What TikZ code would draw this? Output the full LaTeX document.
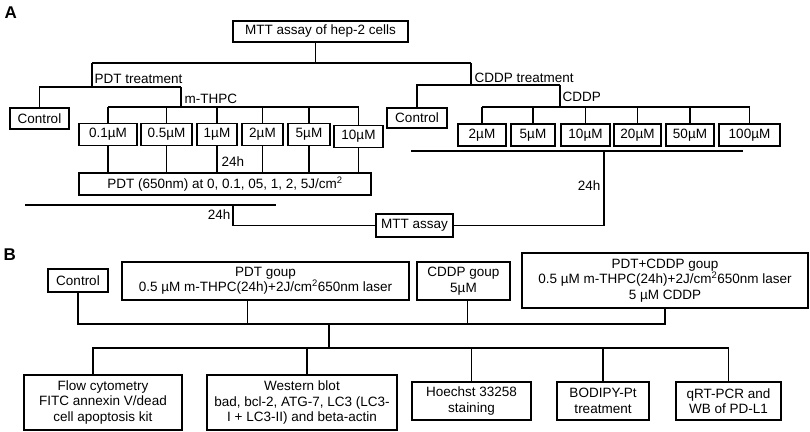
\documentclass[tikz,border=0pt]{standalone}
\usepackage{fontspec}
\setmainfont{Liberation Sans}

\begin{document}
\begin{tikzpicture}[x=1pt, y=-1pt, line width=1.4pt,
  every node/.style={font=\fontsize{13.5}{15.5}\selectfont},
  box/.style={draw, align=center, inner sep=1pt},
  lbl/.style={inner sep=0pt, anchor=base west},
  panel/.style={inner sep=0pt, anchor=base west, font=\fontsize{17}{17}\selectfont\bfseries}]
\useasboundingbox (0,0) rectangle (810,431);
\node[panel] (pA) at (4,18) {A};
\node[panel] (pB) at (3,260) {B};

% A: MTT assay
\node[box, minimum width=175pt, minimum height=21pt] (top) at (320.5,31.5) {MTT assay of hep-2 cells};
\node[box, minimum width=59pt, minimum height=21pt] (ctlA) at (39.5,118.5) {Control};
\node[box, minimum width=60pt, minimum height=20pt] (ctlB) at (417,118) {Control};
\foreach \x/\w/\y/\t [count=\i] in {108/58/134.5/0.1, 166.5/51/134.5/0.5, 217/40/134.5/1, 262.5/41/134.5/2, 309/42/134.5/5, 358.5/49/136.5/10}
  \node[box, minimum width=\w pt, minimum height=22pt] (m\i) at (\x,\y) {\t µM};
\foreach \x/\w/\t [count=\i] in {482/48/2, 533/44/5, 585.5/49/10, 637.5/47/20, 690/48/50, 749.5/61/100}
  \node[box, minimum width=\w pt, minimum height=22pt] (c\i) at (\x,135) {\t µM};
\node[box, minimum width=292pt, minimum height=22pt] (pdtbox) at (225,184) {PDT (650nm) at 0, 0.1, 05, 1, 2, 5J/cm\textsuperscript{2}};
\node[box, minimum width=77pt, minimum height=23pt] (mtt) at (414.5,225.5) {MTT assay};

\coordinate (pdt) at (92,63);
\coordinate (cddp) at (471,63);
\coordinate (pdtj) at (181,87);
\coordinate (cddpj) at (560,85);
\coordinate (mbus) at (0,107);
\draw ([xshift=-5pt]top.south) -- ([xshift=-5pt]top.south |- pdt);
\draw (pdt) -- (cddp);
\draw (pdt) -- (pdt |- pdtj);
\draw (ctlA) |- (pdtj);
\draw (pdtj) -- (pdtj |- mbus);
\draw (m1 |- mbus) -- (m6 |- mbus);
\draw (cddp) -- (cddp |- cddpj);
\draw (ctlB) |- (cddpj);
\draw (cddpj) -- (cddpj |- mbus);
\draw (c1 |- mbus) -- (c6 |- mbus);
\foreach \i in {1,...,6} {
  \draw (m\i) -- (m\i |- mbus);
  \draw (m\i) -- (m\i |- pdtbox.north);
  \draw (c\i) -- (c\i |- mbus);
}
\node[lbl] at (94,83) {PDT treatment};
\node[lbl] at (184,103) {m-THPC};
\node[lbl] at (474,82) {CDDP treatment};
\node[lbl] at (562,101) {CDDP};
\node[lbl] at (221,166) {24h};

% A: after treatment
\coordinate (ja) at (25,205);
\coordinate (jb) at (276,205);
\coordinate (jc) at (233,205);
\coordinate (jd) at (411,151);
\coordinate (je) at (743,151);
\coordinate (jf) at (604,151);
\draw (ja) -- (jb);
\draw (jc) |- (mtt);
\draw (jd) -- (je);
\draw (mtt) -| (jf);
\node[lbl, anchor=base east] at (231,219) {24h};
\node[lbl, anchor=base east] at (601,190) {24h};

% B: groups
\node[box, minimum width=60pt, minimum height=23pt] (ctlC) at (78,280.5) {Control};
\node[box, minimum width=287pt, minimum height=38pt] (pdtg) at (265.5,281) {PDT goup\\0.5 µM m-THPC(24h)+2J/cm\textsuperscript{2}650nm laser};
\node[box, minimum width=93pt, minimum height=38pt] (cddpg) at (463.5,281) {CDDP goup\\5µM};
\node[box, minimum width=286pt, minimum height=55pt] (comb) at (665,280.5) {PDT+CDDP goup\\0.5 µM m-THPC(24h)+2J/cm\textsuperscript{2}650nm laser\\5 µM CDDP};

% B: assays
\node[box, minimum width=158pt, minimum height=55pt] (flow) at (103,402.5) {Flow cytometry\\FITC annexin V/dead\\cell apoptosis kit};
\node[box, minimum width=190pt, minimum height=55pt] (wb) at (302,402.5) {Western blot\\bad, bcl-2, ATG-7, LC3 (LC3-\\I + LC3-II) and beta-actin};
\node[box, minimum width=119pt, minimum height=38pt] (hoe) at (471.5,401) {Hoechst 33258\\staining};
\node[box, minimum width=92pt, minimum height=38pt] (bod) at (603,401) {BODIPY-Pt\\treatment};
\node[box, minimum width=105pt, minimum height=38pt] (qrt) at (728.5,401) {qRT-PCR and\\WB of PD-L1};

\coordinate (gbus) at (329,324);
\coordinate (abus) at (329,348);
\draw (ctlC) |- (gbus);
\draw ([xshift=-18pt]pdtg.south) |- (gbus);
\draw ([xshift=4pt]cddpg.south) |- (gbus);
\draw (comb) |- (gbus);
\draw (gbus) -- (abus);
\draw ([xshift=-10pt]flow.north) |- (abus);
\draw ([xshift=5pt]wb.north) |- (abus);
\foreach \n in {hoe,bod,qrt} \draw (\n) |- (abus);
\end{tikzpicture}
\end{document}
